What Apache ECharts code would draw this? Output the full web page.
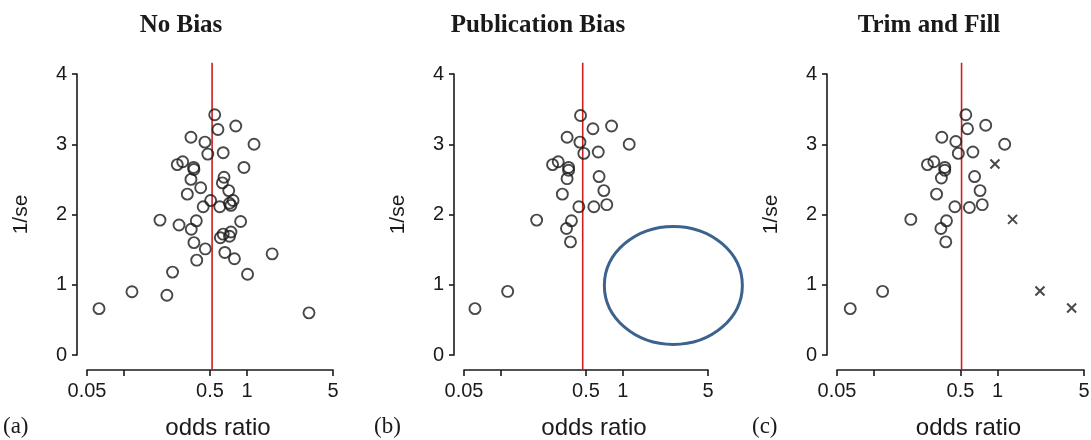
<!DOCTYPE html>
<html>
<head>
  <meta charset="utf8">
  <script src="https://cdn.jsdelivr.net/npm/echarts@6/dist/echarts.min.js"></script>
  <style>
    body { margin: 0; background: #fff; }
    #main { width: 1091px; height: 440px; }
  </style>
</head>
<body>
<div id="main"></div>
<script type="text/javascript">
// panel titles and letters
var titles = ['No Bias', 'Publication Bias', 'Trim and Fill'];
var letters = ['(a)', '(b)', '(c)'];
var xTickLabels = [0.05, 0.5, 1, 5];
var xTicks = [0.05, 0.1, 0.5, 1, 5];

// (a) no bias: [odds ratio, 1/se]
var noBias = [
  [0.546, 3.42], [0.81, 3.26], [0.58, 3.21], [0.35, 3.10], [0.455, 3.03],
  [1.14, 3.00], [0.48, 2.86], [0.64, 2.88], [0.271, 2.71], [0.30, 2.75],
  [0.368, 2.67], [0.37, 2.64], [0.944, 2.67], [0.65, 2.53], [0.63, 2.45],
  [0.35, 2.50], [0.42, 2.38], [0.71, 2.34], [0.327, 2.29], [0.506, 2.20],
  [0.44, 2.11], [0.60, 2.11], [0.72, 2.16], [0.77, 2.20], [0.74, 2.13],
  [0.196, 1.92], [0.28, 1.85], [0.387, 1.91], [0.352, 1.79], [0.887, 1.90],
  [0.37, 1.60], [0.458, 1.51], [0.607, 1.67], [0.64, 1.72], [0.72, 1.69],
  [0.74, 1.75], [0.39, 1.35], [0.66, 1.46], [0.79, 1.37], [1.60, 1.44],
  [0.248, 1.18], [1.01, 1.15], [0.116, 0.90], [0.223, 0.85], [0.0626, 0.66],
  [3.19, 0.60]
];

// (b) publication bias
var pubBias = [
  [0.451, 3.41], [0.57, 3.22], [0.81, 3.26], [0.35, 3.10], [0.446, 3.03],
  [1.13, 3.00], [0.48, 2.87], [0.63, 2.89], [0.266, 2.71], [0.296, 2.75],
  [0.36, 2.67], [0.36, 2.63], [0.35, 2.51], [0.64, 2.54], [0.70, 2.34],
  [0.32, 2.29], [0.437, 2.11], [0.58, 2.11], [0.74, 2.14], [0.197, 1.92],
  [0.38, 1.91], [0.346, 1.80], [0.373, 1.61], [0.114, 0.905], [0.0615, 0.66]
];

// (c) trim and fill: observed studies and filled-in studies
var trimObserved = [
  [0.552, 3.42], [0.57, 3.22], [0.80, 3.27], [0.353, 3.10], [0.458, 3.04],
  [1.14, 3.00], [0.48, 2.87], [0.63, 2.89], [0.27, 2.71], [0.304, 2.75],
  [0.373, 2.67], [0.373, 2.63], [0.35, 2.52], [0.65, 2.54], [0.72, 2.34],
  [0.32, 2.29], [0.45, 2.11], [0.59, 2.10], [0.75, 2.14], [0.198, 1.93],
  [0.385, 1.91], [0.347, 1.80], [0.38, 1.61], [0.117, 0.905], [0.064, 0.66]
];
var trimFilled = [[0.95, 2.72], [1.32, 1.93], [2.20, 0.91], [3.97, 0.67]];

// pooled estimate (red line) for each panel
var pooled = [0.52, 0.47, 0.51];

// annotation ellipse in panel (b): centre in data units
var ellipseCentre = [2.6, 0.99];

var grids = [
  { left: 87, top: 74, width: 246, height: 281, outerBoundsMode: 'none' },
  { left: 464, top: 74, width: 244, height: 281, outerBoundsMode: 'none' },
  { left: 837, top: 74, width: 247, height: 281, outerBoundsMode: 'none' }
];
var centres = [176, 533, 924];

var sans = 'Liberation Sans';
var serif = 'Liberation Serif';

var xAxes = [], yAxes = [], series = [], titleList = [], graphics = [];
for (var i = 0; i < 3; i++) {
  xAxes.push({
    type: 'log', gridIndex: i, min: 0.05, max: 5, logBase: 10,
    position: 'bottom', offset: 15,
    name: 'odds ratio', nameLocation: 'middle', nameGap: 46,
    nameTextStyle: { fontFamily: sans, fontSize: 24, color: '#1a1a1a', padding: [0, 0, 0, 16] },
    axisLine: { show: true, onZero: false, lineStyle: { color: '#1a1a1a', width: 1.6 } },
    axisTick: { show: true, length: 6, customValues: xTicks, lineStyle: { color: '#1a1a1a', width: 1.6 } },
    axisLabel: {
      customValues: xTickLabels, margin: 11, fontFamily: sans, fontSize: 20, color: '#1a1a1a',
      formatter: function (v) { return String(+(+v).toPrecision(2)); }
    },
    splitLine: { show: false }, minorTick: { show: false }
  });
  yAxes.push({
    type: 'value', gridIndex: i, min: 0, max: 4, interval: 1, offset: 10,
    name: '1/se', nameLocation: 'middle', nameGap: 45, nameRotate: 90,
    nameTextStyle: { fontFamily: sans, fontSize: 21, color: '#1a1a1a' },
    axisLine: { show: true, lineStyle: { color: '#1a1a1a', width: 1.6 } },
    axisTick: { show: true, length: 5, lineStyle: { color: '#1a1a1a', width: 1.6 } },
    axisLabel: { margin: 10, fontFamily: sans, fontSize: 20, color: '#1a1a1a' },
    splitLine: { show: false }
  });
  titleList.push({
    text: titles[i], left: centres[i], top: 8, textAlign: 'center',
    textStyle: { fontFamily: serif, fontSize: 25, fontWeight: 'bold', color: '#1a1a1a' }
  });
  graphics.push({
    type: 'text', left: [3, 374, 752][i], top: 415,
    style: { text: letters[i], font: '23px "Liberation Serif"', fill: '#1a1a1a' }
  });
  series.push({
    type: 'line', xAxisIndex: i, yAxisIndex: i, silent: true, clip: false,
    symbol: 'none', z: 1,
    lineStyle: { color: '#cc1f1f', width: 1.6 },
    data: [[pooled[i], -0.2], [pooled[i], 4.16]]
  });
}

var circleStyle = { color: 'transparent', borderColor: '#1a1a1a', borderWidth: 1.9 };
[noBias, pubBias, trimObserved].forEach(function (d, i) {
  series.push({
    type: 'scatter', xAxisIndex: i, yAxisIndex: i, symbol: 'circle', symbolSize: 11,
    itemStyle: circleStyle, data: d, z: 3
  });
});
series.push({
  type: 'scatter', xAxisIndex: 2, yAxisIndex: 2,
  symbol: 'path://M0,0L10,10M10,0L0,10', symbolSize: 9,
  itemStyle: { color: 'transparent', borderColor: '#1a1a1a', borderWidth: 2 },
  data: trimFilled, z: 3
});

var chart = echarts.init(document.getElementById('main'));
chart.setOption({
  animation: false,
  backgroundColor: '#fff',
  title: titleList,
  grid: grids,
  xAxis: xAxes,
  yAxis: yAxes,
  series: series,
  graphic: graphics
});

// place the blue ellipse from data coordinates of panel (b)
var c = chart.convertToPixel({ xAxisIndex: 1, yAxisIndex: 1 }, ellipseCentre);
graphics.push({
  type: 'ellipse', silent: true, z: 10,
  shape: { cx: c[0], cy: c[1], rx: 69, ry: 59 },
  style: { fill: 'none', stroke: '#3c6390', lineWidth: 3 }
});
chart.setOption({ graphic: graphics });
</script>
</body>
</html>
